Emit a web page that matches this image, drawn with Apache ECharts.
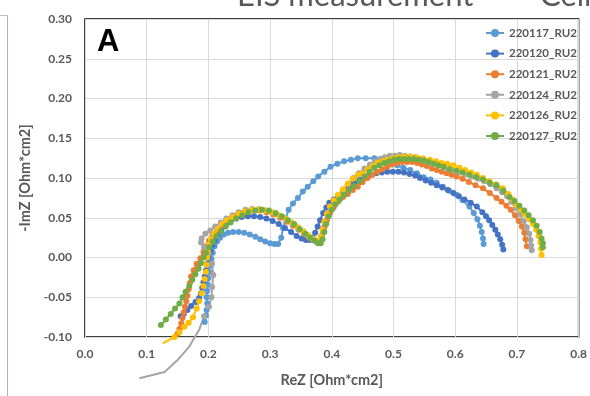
<!DOCTYPE html>
<html>
<head>
<meta charset="utf-8">
<script src="https://cdn.jsdelivr.net/npm/echarts@6/dist/echarts.min.js"></script>
<style>
  html, body { margin: 0; padding: 0; background: #fff; }
  #chart { width: 590px; height: 396px; }
</style>
</head>
<body>
<div id="chart"></div>
<script>
// series names (legend order)
const names = ['220117_RU2', '220120_RU2', '220121_RU2', '220124_RU2', '220126_RU2', '220127_RU2'];
const colors = ['#5B9BD5', '#4472C4', '#ED7D31', '#A5A5A5', '#FFC000', '#70AD47'];

// [ReZ, -ImZ]
const s220117 = [
  [0.194,-0.081],[0.196,-0.073],[0.197,-0.066],[0.198,-0.058],[0.197,-0.050],[0.198,-0.042],[0.199,-0.034],[0.200,-0.026],
  [0.201,-0.018],[0.203,-0.010],[0.205,-0.002],[0.207,0.006],[0.210,0.014],[0.214,0.020],[0.219,0.025],[0.225,0.029],
  [0.232,0.031],[0.240,0.032],[0.249,0.032],[0.258,0.031],[0.267,0.029],[0.276,0.026],[0.284,0.023],[0.292,0.020],
  [0.300,0.018],[0.307,0.017],[0.313,0.017],[0.318,0.025],[0.321,0.037],[0.325,0.049],[0.330,0.060],[0.337,0.068],
  [0.345,0.075],[0.353,0.083],[0.361,0.089],[0.370,0.096],[0.378,0.102],[0.388,0.108],[0.398,0.114],[0.409,0.118],
  [0.420,0.121],[0.431,0.123],[0.442,0.125],[0.455,0.125],[0.469,0.125],[0.480,0.124],[0.490,0.123],[0.498,0.120],
  [0.506,0.116],[0.516,0.113],[0.527,0.110],[0.538,0.106],[0.549,0.101],[0.560,0.098],[0.570,0.094],[0.580,0.089],
  [0.590,0.084],[0.602,0.079],[0.612,0.072],[0.623,0.064],[0.630,0.056],[0.636,0.048],[0.640,0.040],[0.643,0.032],
  [0.645,0.024],[0.646,0.017]
];
const s220120 = [
  [0.155,-0.074],[0.160,-0.071],[0.166,-0.066],[0.172,-0.061],[0.179,-0.056],[0.185,-0.051],[0.188,-0.045],[0.190,-0.038],
  [0.192,-0.031],[0.194,-0.024],[0.196,-0.016],[0.198,-0.008],[0.200,0.000],[0.203,0.008],[0.206,0.015],[0.210,0.022],
  [0.215,0.029],[0.221,0.035],[0.228,0.041],[0.236,0.046],[0.245,0.049],[0.254,0.051],[0.264,0.052],[0.274,0.052],
  [0.284,0.051],[0.294,0.049],[0.304,0.046],[0.314,0.042],[0.324,0.037],[0.334,0.032],[0.343,0.027],[0.351,0.024],
  [0.358,0.022],[0.364,0.022],[0.369,0.025],[0.373,0.031],[0.377,0.039],[0.381,0.047],[0.386,0.056],[0.391,0.063],
  [0.396,0.069],[0.403,0.073],[0.410,0.077],[0.419,0.083],[0.428,0.089],[0.436,0.094],[0.445,0.098],[0.454,0.101],
  [0.463,0.104],[0.472,0.106],[0.481,0.107],[0.490,0.108],[0.499,0.108],[0.508,0.108],[0.517,0.107],[0.526,0.105],
  [0.535,0.103],[0.543,0.100],[0.552,0.097],[0.561,0.094],[0.570,0.091],[0.579,0.088],[0.588,0.085],[0.597,0.081],
  [0.606,0.077],[0.615,0.073],[0.625,0.069],[0.635,0.064],[0.644,0.057],[0.650,0.052],[0.655,0.047],[0.660,0.041],
  [0.665,0.035],[0.669,0.029],[0.673,0.023],[0.676,0.016],[0.678,0.010]
];
const s220121 = [
  [0.150,-0.096],[0.153,-0.090],[0.156,-0.083],[0.158,-0.076],[0.160,-0.069],[0.162,-0.062],[0.164,-0.055],[0.166,-0.048],
  [0.168,-0.040],[0.170,-0.032],[0.172,-0.024],[0.176,-0.016],[0.181,-0.008],[0.187,-0.001],[0.192,0.007],[0.196,0.014],
  [0.201,0.021],[0.207,0.028],[0.214,0.035],[0.222,0.041],[0.231,0.047],[0.240,0.052],[0.250,0.056],[0.261,0.058],
  [0.272,0.059],[0.283,0.059],[0.294,0.057],[0.305,0.054],[0.316,0.050],[0.327,0.045],[0.337,0.040],[0.346,0.035],
  [0.355,0.030],[0.363,0.025],[0.370,0.022],[0.376,0.020],[0.381,0.021],[0.384,0.028],[0.388,0.038],[0.392,0.047],
  [0.397,0.056],[0.403,0.063],[0.410,0.070],[0.418,0.076],[0.426,0.080],[0.434,0.085],[0.442,0.089],[0.450,0.095],
  [0.458,0.100],[0.466,0.104],[0.474,0.108],[0.482,0.111],[0.490,0.114],[0.498,0.117],[0.506,0.119],[0.514,0.120],
  [0.522,0.120],[0.530,0.120],[0.538,0.119],[0.546,0.117],[0.554,0.115],[0.562,0.112],[0.570,0.110],[0.578,0.108],
  [0.586,0.106],[0.594,0.104],[0.602,0.102],[0.612,0.099],[0.622,0.095],[0.633,0.091],[0.645,0.087],[0.656,0.081],
  [0.667,0.075],[0.675,0.070],[0.683,0.065],[0.690,0.060],[0.697,0.053],[0.703,0.046],[0.708,0.039],[0.712,0.031],
  [0.714,0.023],[0.716,0.014]
];
const s220124 = [
  [0.088,-0.152],[0.129,-0.144],[0.150,-0.129],[0.169,-0.112],[0.185,-0.091],
  [0.193,-0.074],[0.201,-0.062],[0.205,-0.050],[0.206,-0.037],[0.208,-0.022],[0.206,-0.008],[0.200,0.005],[0.193,0.013],
  [0.188,0.019],[0.189,0.024],[0.195,0.030],[0.203,0.034],[0.211,0.039],[0.220,0.044],[0.229,0.049],[0.239,0.053],
  [0.249,0.057],[0.260,0.060],[0.271,0.061],[0.282,0.061],[0.293,0.059],[0.304,0.056],[0.315,0.052],[0.326,0.047],
  [0.336,0.042],[0.346,0.036],[0.355,0.031],[0.363,0.026],[0.370,0.022],[0.376,0.019],[0.380,0.019],[0.383,0.024],
  [0.386,0.033],[0.389,0.043],[0.393,0.053],[0.398,0.062],[0.404,0.070],[0.411,0.077],[0.419,0.084],[0.426,0.092],
  [0.435,0.100],[0.444,0.106],[0.453,0.112],[0.462,0.117],[0.470,0.121],[0.478,0.124],[0.486,0.126],[0.494,0.128],
  [0.502,0.128],[0.510,0.129],[0.518,0.128],[0.526,0.127],[0.534,0.126],[0.543,0.124],[0.552,0.121],[0.562,0.118],
  [0.572,0.116],[0.581,0.113],[0.590,0.111],[0.599,0.109],[0.608,0.107],[0.617,0.105],[0.627,0.102],[0.637,0.099],
  [0.647,0.096],[0.657,0.092],[0.667,0.087],[0.676,0.082],[0.684,0.077],[0.691,0.070],[0.698,0.062],[0.705,0.054],
  [0.711,0.046],[0.716,0.038],[0.720,0.030],[0.722,0.022],[0.723,0.015],[0.724,0.009]
];
const s220126 = [
  [0.126,-0.108],
  [0.145,-0.100],[0.153,-0.094],[0.161,-0.087],[0.168,-0.082],[0.175,-0.075],[0.181,-0.064],[0.185,-0.055],[0.189,-0.045],
  [0.192,-0.036],[0.194,-0.027],[0.196,-0.018],[0.197,-0.009],[0.198,0.000],[0.199,0.008],[0.201,0.016],[0.204,0.023],
  [0.209,0.030],[0.215,0.036],[0.222,0.042],[0.230,0.047],[0.239,0.051],[0.249,0.055],[0.259,0.058],[0.270,0.060],
  [0.281,0.060],[0.292,0.059],[0.303,0.057],[0.314,0.053],[0.325,0.049],[0.335,0.044],[0.345,0.038],[0.354,0.033],
  [0.362,0.028],[0.369,0.024],[0.375,0.021],[0.379,0.021],[0.382,0.026],[0.385,0.035],[0.388,0.045],[0.392,0.055],
  [0.397,0.064],[0.403,0.072],[0.410,0.079],[0.418,0.086],[0.426,0.093],[0.434,0.099],[0.442,0.104],[0.450,0.106],
  [0.458,0.111],[0.466,0.115],[0.474,0.119],[0.482,0.121],[0.490,0.123],[0.499,0.125],[0.508,0.126],[0.517,0.127],
  [0.527,0.127],[0.537,0.126],[0.548,0.125],[0.559,0.123],[0.569,0.121],[0.578,0.119],[0.587,0.118],[0.597,0.116],
  [0.607,0.113],[0.616,0.110],[0.626,0.107],[0.635,0.104],[0.645,0.100],[0.655,0.096],[0.666,0.092],[0.677,0.087],
  [0.686,0.080],[0.693,0.073],[0.699,0.066],[0.706,0.060],[0.713,0.054],[0.720,0.048],[0.726,0.042],[0.731,0.035],
  [0.735,0.027],[0.738,0.019],[0.739,0.011],[0.740,0.003]
];
const s220127 = [
  [0.123,-0.085],[0.131,-0.078],[0.139,-0.071],[0.146,-0.064],[0.153,-0.058],[0.158,-0.050],[0.163,-0.043],[0.169,-0.036],
  [0.174,-0.028],[0.179,-0.021],[0.184,-0.014],[0.188,-0.007],[0.192,0.000],[0.196,0.006],[0.201,0.013],[0.207,0.020],
  [0.213,0.027],[0.220,0.033],[0.228,0.039],[0.236,0.044],[0.245,0.049],[0.255,0.053],[0.265,0.057],[0.276,0.059],
  [0.287,0.060],[0.298,0.059],[0.309,0.056],[0.319,0.052],[0.329,0.047],[0.339,0.042],[0.348,0.036],[0.357,0.030],
  [0.365,0.025],[0.372,0.021],[0.378,0.018],[0.382,0.018],[0.385,0.023],[0.388,0.032],[0.391,0.042],[0.395,0.052],
  [0.400,0.060],[0.406,0.067],[0.413,0.073],[0.420,0.079],[0.428,0.085],[0.436,0.090],[0.445,0.096],[0.453,0.102],
  [0.461,0.108],[0.469,0.113],[0.477,0.116],[0.485,0.119],[0.493,0.121],[0.501,0.123],[0.509,0.124],[0.517,0.124],
  [0.525,0.124],[0.533,0.124],[0.541,0.123],[0.549,0.122],[0.557,0.120],[0.565,0.118],[0.573,0.116],[0.581,0.114],
  [0.591,0.111],[0.602,0.109],[0.612,0.107],[0.623,0.104],[0.634,0.101],[0.645,0.098],[0.656,0.094],[0.667,0.091],
  [0.678,0.084],[0.688,0.076],[0.696,0.071],[0.704,0.065],[0.712,0.059],[0.719,0.053],[0.726,0.047],[0.732,0.040],
  [0.737,0.032],[0.740,0.024],[0.742,0.018],[0.742,0.013]
];
const allData = [s220117, s220120, s220121, s220124, s220126, s220127];
// leading points drawn without a marker
const unmarked = [0, 0, 0, 5, 1, 0];

const xTicks = { min: 0, max: 0.8, step: 0.1 };
const yTicks = { min: -0.1, max: 0.3, step: 0.05 };

const labelFont = { color: '#595959', fontSize: 12, fontWeight: 'bold', fontFamily: 'Lato' };
const titleFont = { color: '#595959', fontSize: 14.5, fontWeight: 'bold', fontFamily: 'Lato' };

const chart = echarts.init(document.getElementById('chart'));

const series = names.map((name, i) => ({
  name: name,
  type: 'line',
  clip: false,
  symbol: 'circle',
  symbolSize: 6,
  showSymbol: true,
  color: colors[i],
  lineStyle: { width: 2 },
  data: allData[i].map((p, j) => j < unmarked[i] ? { value: p, symbolSize: 0 } : p)
}));

chart.setOption({
  animation: false,
  grid: {
    left: 85, right: 7, top: 19, bottom: 59,
    show: true, borderColor: '#000', borderWidth: 1.5
  },
  legend: {
    orient: 'vertical',
    left: 480, top: 21,
    itemWidth: 18, itemHeight: 10, itemGap: 6.6,
    textStyle: { color: '#595959', fontSize: 11.5, fontWeight: 'bold', fontFamily: 'Lato', lineHeight: 14 },
    data: names
  },
  xAxis: {
    type: 'value',
    min: xTicks.min, max: xTicks.max, interval: xTicks.step,
    name: 'ReZ [Ohm*cm2]',
    nameLocation: 'middle', nameGap: 36,
    nameTextStyle: titleFont,
    axisLine: { show: false }, axisTick: { show: false },
    axisLabel: Object.assign({ margin: 11, formatter: v => v.toFixed(1) }, labelFont),
    splitLine: { lineStyle: { color: '#D9D9D9', width: 1 } }
  },
  yAxis: {
    type: 'value',
    min: yTicks.min, max: yTicks.max, interval: yTicks.step,
    name: '-ImZ [Ohm*cm2]',
    nameLocation: 'middle', nameGap: 50,
    nameTextStyle: titleFont,
    axisLine: { show: false }, axisTick: { show: false },
    axisLabel: Object.assign({ margin: 13, formatter: v => v.toFixed(2) }, labelFont),
    splitLine: { lineStyle: { color: '#D9D9D9', width: 1 } }
  },
  graphic: [
    { type: 'text', left: 97, top: 27, style: { text: 'A', font: 'bold 31px Arial', fill: '#000' } },
    { type: 'text', left: 237, top: -20, style: { text: 'EIS measurement', font: '31px Lato', fill: '#595959' } },
    { type: 'text', left: 540, top: -20, style: { text: 'Cell', font: '31px Lato', fill: '#595959' } },
    { type: 'line', shape: { x1: 7.5, y1: 15, x2: 7.5, y2: 396 }, style: { stroke: '#9DB4DC', lineWidth: 1 } },
    { type: 'line', shape: { x1: 0, y1: 15.5, x2: 7.5, y2: 15.5 }, style: { stroke: '#BFBFBF', lineWidth: 1 } }
  ],
  series: series
});
</script>
</body>
</html>
